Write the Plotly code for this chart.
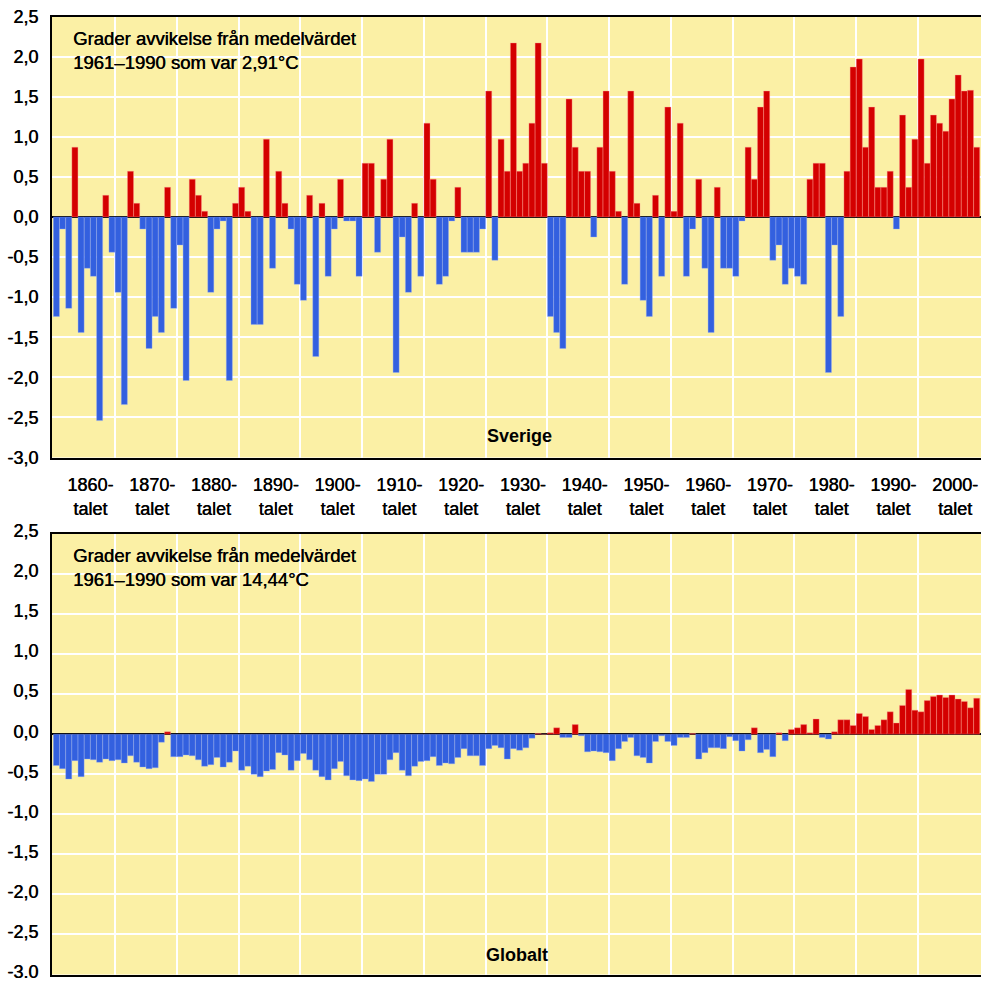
import plotly.graph_objects as go

# ---------------- data ----------------
years = list(range(1860, 2010))

sverige = [
    -1.24, -0.15, -1.14, 0.87, -1.44, -0.64, -0.74, -2.54, 0.27, -0.44,   # 1860s
    -0.94, -2.34, 0.57, 0.17, -0.15, -1.64, -1.24, -1.44, 0.37, -1.14,    # 1870s
    -0.35, -2.04, 0.47, 0.27, 0.07, -0.94, -0.15, -0.05, -2.04, 0.17,     # 1880s
    0.37, 0.07, -1.34, -1.34, 0.97, -0.64, 0.57, 0.17, -0.15, -0.84,      # 1890s
    -1.04, 0.27, -1.74, 0.17, -0.74, -0.15, 0.47, -0.05, -0.05, -0.74,    # 1900s
    0.67, 0.67, -0.44, 0.47, 0.97, -1.94, -0.25, -0.94, 0.17, -0.74,      # 1910s
    1.17, 0.47, -0.84, -0.74, -0.05, 0.37, -0.44, -0.44, -0.44, -0.15,    # 1920s
    1.57, -0.54, 0.97, 0.57, 2.17, 0.57, 0.67, 1.17, 2.17, 0.67,          # 1930s
    -1.24, -1.44, -1.64, 1.47, 0.87, 0.57, 0.57, -0.25, 0.87, 1.57,       # 1940s
    0.57, 0.07, -0.84, 1.57, 0.17, -1.04, -1.24, 0.27, -0.74, 1.37,       # 1950s
    0.07, 1.17, -0.74, -0.15, 0.47, -0.64, -1.44, 0.37, -0.64, -0.64,     # 1960s
    -0.74, -0.05, 0.87, 0.47, 1.37, 1.57, -0.54, -0.35, -0.84, -0.64,     # 1970s
    -0.74, -0.84, 0.47, 0.67, 0.67, -1.94, -0.35, -1.24, 0.57, 1.87,      # 1980s
    1.97, 0.87, 1.37, 0.37, 0.37, 0.57, -0.15, 1.27, 0.37, 0.97,          # 1990s
    1.97, 0.67, 1.27, 1.17, 1.07, 1.47, 1.77, 1.57, 1.58, 0.87,           # 2000s
]

globalt = [
    -0.39, -0.43, -0.56, -0.33, -0.53, -0.31, -0.32, -0.35, -0.31, -0.33,  # 1860s
    -0.32, -0.36, -0.27, -0.35, -0.41, -0.43, -0.42, -0.10, 0.03, -0.28,   # 1870s
    -0.28, -0.26, -0.27, -0.32, -0.40, -0.38, -0.29, -0.41, -0.35, -0.21,  # 1880s
    -0.45, -0.40, -0.50, -0.53, -0.46, -0.44, -0.23, -0.26, -0.45, -0.33,  # 1890s
    -0.24, -0.32, -0.45, -0.53, -0.57, -0.43, -0.34, -0.52, -0.57, -0.58,  # 1900s
    -0.56, -0.59, -0.50, -0.50, -0.32, -0.23, -0.45, -0.52, -0.40, -0.34,  # 1910s
    -0.33, -0.28, -0.39, -0.36, -0.37, -0.29, -0.18, -0.27, -0.27, -0.39,  # 1920s
    -0.18, -0.14, -0.17, -0.31, -0.18, -0.20, -0.17, -0.05, 0.01, 0.00,    # 1930s
    0.02, 0.08, -0.04, -0.04, 0.12, -0.02, -0.22, -0.21, -0.22, -0.23,     # 1940s
    -0.33, -0.18, -0.09, -0.04, -0.27, -0.29, -0.36, -0.09, -0.02, -0.09,  # 1950s
    -0.14, -0.04, -0.04, 0.01, -0.31, -0.23, -0.17, -0.17, -0.18, -0.03,   # 1960s
    -0.08, -0.21, -0.07, 0.08, -0.23, -0.19, -0.28, 0.02, -0.08, 0.06,     # 1970s
    0.08, 0.12, 0.02, 0.19, -0.04, -0.06, 0.03, 0.18, 0.18, 0.11,          # 1980s
    0.26, 0.22, 0.06, 0.11, 0.18, 0.28, 0.14, 0.36, 0.56, 0.30,            # 1990s
    0.28, 0.42, 0.47, 0.49, 0.46, 0.49, 0.44, 0.41, 0.33, 0.45,            # 2000s
]

decades = list(range(1860, 2010, 10))
decade_labels = [f"{d}-<br>talet" for d in decades]

ytick_vals = [2.5, 2.0, 1.5, 1.0, 0.5, 0.0, -0.5, -1.0, -1.5, -2.0, -2.5, -3.0]
ytick_text_top = ["2,5", "2,0", "1,5", "1,0", "0,5", "0,0", "-0,5", "-1,0",
                  "-1,5", "-2,0", "-2,5", "-3,0"]
ytick_text_bottom = ["2,5", "2,0", "1,5", "1,0", "0,5", "0,0", "-0,5", "-1,0",
                     "-1,5", "-2,0", "-2,5", "-3.0"]

note_top = "Grader avvikelse från medelvärdet<br>1961–1990 som var 2,91°C"
note_bottom = "Grader avvikelse från medelvärdet<br>1961–1990 som var 14,44°C"

# ---------------- style ----------------
RED = "#D40000"
BLUE = "#3360DF"
BG = "#FBF0A5"
FONT = "Liberation Sans, Arial, sans-serif"
SHADOW = "0.45px 0px 0px black"
W, H = 981, 982
ML = 52

def colors(vals):
    return [RED if v >= 0 else BLUE for v in vals]

def edge(vals):
    return ["rgba(255,150,150,0.6)" if v >= 0 else "rgba(150,175,255,0.6)" for v in vals]

fig = go.Figure()
fig.add_trace(go.Bar(x=years, y=sverige, marker=dict(color=colors(sverige),
                     line=dict(color=edge(sverige), width=0.6)),
                     xaxis="x", yaxis="y", showlegend=False, hoverinfo="skip"))
fig.add_trace(go.Bar(x=years, y=globalt, marker=dict(color=colors(globalt),
                     line=dict(color=edge(globalt), width=0.6)),
                     xaxis="x2", yaxis="y2", showlegend=False, hoverinfo="skip"))

xrange = [1859.29, 2009.7]
minor_grid = dict(tickvals=[d + 9.5 for d in decades[:-1]], showgrid=True,
                  gridcolor="white", gridwidth=2, ticks="")

def px_y(py):
    return (H - py) / H

def px_x(px):
    return (px - ML) / (W - ML)

axis_font = dict(family=FONT, size=18, color="black", shadow=SHADOW)
text_font = dict(family=FONT, size=18.5, color="black", shadow=SHADOW)
bold_font = dict(family=FONT, size=18, color="black")

fig.update_layout(
    width=W, height=H,
    margin=dict(l=ML, r=0, t=0, b=0, autoexpand=False),
    paper_bgcolor="white", plot_bgcolor=BG,
    bargap=0.02,
    xaxis=dict(domain=[0, 1], anchor="y", range=xrange, automargin=False,
               tickvals=[d + 5.5 for d in decades], ticktext=decade_labels,
               showgrid=False, minor=minor_grid, zeroline=False,
               showline=True, mirror=True, linecolor="black", linewidth=2,
               ticks="", ticklabelstandoff=10, tickfont=axis_font,
               ticklabeloverflow="allow", fixedrange=True),
    yaxis=dict(domain=[px_y(457.5), px_y(16.5)], anchor="x", range=[-3.0, 2.5],
               automargin=False,
               tickvals=ytick_vals, ticktext=ytick_text_top,
               showgrid=True, gridcolor="white", gridwidth=2,
               zeroline=True, zerolinecolor="black", zerolinewidth=2,
               showline=True, mirror=False, linecolor="black", linewidth=2,
               ticks="", ticklabelstandoff=8, tickfont=axis_font,
               ticklabeloverflow="allow", fixedrange=True),
    xaxis2=dict(domain=[0, 1], anchor="y2", range=xrange, automargin=False,
                showticklabels=False, showgrid=False, minor=minor_grid,
                zeroline=False, showline=True, mirror=True,
                linecolor="black", linewidth=2, ticks="", fixedrange=True),
    yaxis2=dict(domain=[px_y(974.5), px_y(534)], anchor="x2", range=[-3.0, 2.5],
                automargin=False,
                tickvals=ytick_vals, ticktext=ytick_text_bottom,
                showgrid=True, gridcolor="white", gridwidth=2,
                zeroline=True, zerolinecolor="black", zerolinewidth=2,
                showline=True, mirror=False, linecolor="black", linewidth=2,
                ticks="", ticklabelstandoff=8, ticklabelshift=-3, tickfont=axis_font,
                ticklabeloverflow="allow", fixedrange=True),
    annotations=[
        dict(text=note_top, xref="paper", yref="paper", x=px_x(71), y=px_y(50),
             xanchor="left", yanchor="middle", align="left", showarrow=False,
             font=text_font),
        dict(text=note_bottom, xref="paper", yref="paper", x=px_x(71), y=px_y(567),
             xanchor="left", yanchor="middle", align="left", showarrow=False,
             font=text_font),
        dict(text="<b>Sverige</b>", xref="paper", yref="paper", x=px_x(519), y=px_y(436),
             xanchor="center", yanchor="middle", showarrow=False, font=bold_font),
        dict(text="<b>Globalt</b>", xref="paper", yref="paper", x=px_x(517), y=px_y(955),
             xanchor="center", yanchor="middle", showarrow=False, font=bold_font),
    ],
)

fig.write_html(
    "out.html",
    config={"displayModeBar": False, "staticPlot": True},
    post_script="document.body.style.margin='0';document.body.style.overflow='hidden';"
                "document.documentElement.style.overflow='hidden';",
)
